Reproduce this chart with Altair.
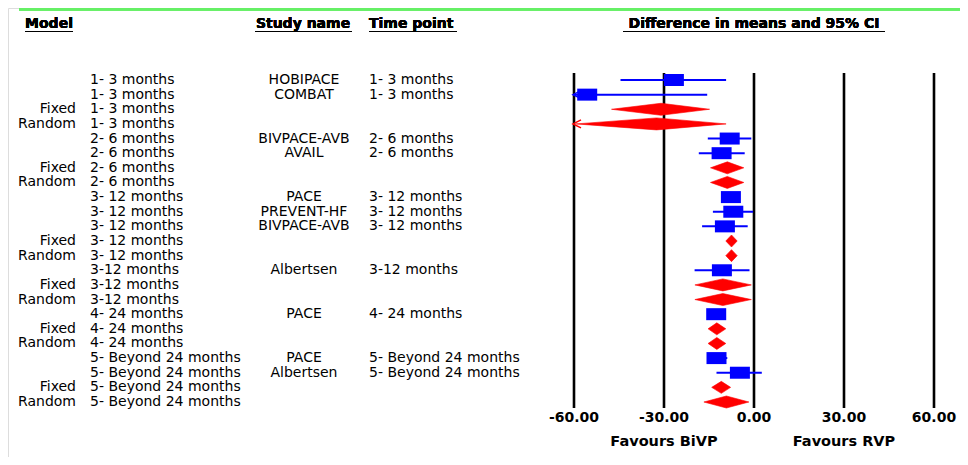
import altair as alt
import pandas as pd

# ---------------- data ----------------
models = ["", "", "Fixed", "Random", "", "", "Fixed", "Random", "", "", "", "Fixed", "Random",
          "", "Fixed", "Random", "", "Fixed", "Random", "", "", "Fixed", "Random"]
subgroups = (["1- 3 months"] * 4 + ["2- 6 months"] * 4 + ["3- 12 months"] * 5 +
             ["3-12 months"] * 3 + ["4- 24 months"] * 3 + ["5- Beyond 24 months"] * 4)
studies = ["HOBIPACE", "COMBAT", "", "", "BIVPACE-AVB", "AVAIL", "", "", "PACE", "PREVENT-HF",
           "BIVPACE-AVB", "", "", "Albertsen", "", "", "PACE", "", "", "PACE", "Albertsen", "", ""]
timepoints = ["1- 3 months", "1- 3 months", "", "", "2- 6 months", "2- 6 months", "", "",
              "3- 12 months", "3- 12 months", "3- 12 months", "", "", "3-12 months", "", "",
              "4- 24 months", "", "", "5- Beyond 24 months", "5- Beyond 24 months", "", ""]
estimates = [-26.7, -55.6, -31.0, -32.5, -8.1, -10.8, -8.9, -8.9, -7.7, -6.9, -9.7, -7.5, -7.5,
             -10.7, -10.4, -10.4, -12.6, -12.4, -12.4, -12.5, -4.7, -10.9, -9.2]
lower = [-44.5, -60.0, -47.5, -59.3, -15.4, -18.4, -14.5, -14.5, -9.5, -13.7, -17.3, -9.4, -9.4,
         -19.8, -19.7, -19.7, -14.0, -15.3, -15.3, -14.0, -12.5, -14.1, -16.7]
upper = [-9.3, -15.6, -14.8, -9.3, -0.9, -3.1, -3.4, -3.4, -6.0, -0.3, -2.1, -5.6, -5.6,
         -1.5, -0.9, -0.9, -11.2, -9.4, -9.4, -8.9, 2.6, -7.8, -1.7]
tick_values = [-60, -30, 0, 30, 60]
tick_labels = ["-60.00", "-30.00", "0.00", "30.00", "60.00"]
favour_positions = [-30, 30]
favour_labels = ["Favours BiVP", "Favours RVP"]
clipped_rows = [2, 4]  # rows whose interval runs past -60 (arrow)

rows = list(range(1, len(models) + 1))
kind = ["summary" if m else "study" for m in models]
df = pd.DataFrame({"row": rows, "model": models, "subgroup": subgroups, "study": studies,
                   "timepoint": timepoints, "est": estimates, "lo": lower, "hi": upper,
                   "kind": kind})

# diamond polygons for the summary rows (horizontal area: top tip, widest, bottom tip)
HALF = 0.41
dia_rows = []
for r, k, e, l, h in zip(rows, kind, estimates, lower, upper):
    if k == "summary":
        dia_rows.append({"grp": "d%02d" % r, "pyv": r - HALF, "pa": e, "pb": e})
        dia_rows.append({"grp": "d%02d" % r, "pyv": float(r), "pa": l, "pb": h})
        dia_rows.append({"grp": "d%02d" % r, "pyv": r + HALF, "pa": e, "pb": e})
dia = pd.DataFrame(dia_rows)

arrows = df[df["row"].isin(clipped_rows)].copy()
ticks = pd.DataFrame({"v": tick_values, "label": tick_labels})
favours = pd.DataFrame({"v": favour_positions, "label": favour_labels})

xs = alt.Scale(domain=[-60, 60], range=[566, 926], nice=False, zero=False)
ys = alt.Scale(domain=[1, 23], range=[72, 394], nice=False, zero=False)

FONT = "DejaVu Sans"
BLUE = "#0000ff"
RED = "#ff0000"

base = alt.Chart(df)
Y = alt.Y("row:Q", scale=ys, axis=None)

# top green line
green = alt.Chart(ticks).mark_rule(color="#66f066", strokeWidth=3).encode(
    x=alt.value(11), x2=alt.value(960), y=alt.value(1))


def header(text, x, align):
    return alt.Chart(ticks).mark_text(text=text, font=FONT, fontSize=14, fontWeight="bold",
                                      align=align, baseline="middle", color="black").encode(
        x=alt.value(x), y=alt.value(16))


def underline(x1, x2):
    return alt.Chart(ticks).mark_rule(color="black", strokeWidth=1.2).encode(
        x=alt.value(x1), x2=alt.value(x2), y=alt.value(23.5))


headers = [
    header("Model", 41, "center"), underline(17, 65),
    header("Study name", 295, "center"), underline(247, 344),
    header("Time point", 361, "left"), underline(361, 449),
    header("Difference in means and 95% CI", 746, "center"), underline(615, 877),
]

grid = alt.Chart(ticks).mark_rule(color="black", strokeWidth=2.6).encode(
    x=alt.X("v:Q", scale=xs, axis=None), y=alt.value(65), y2=alt.value(400))
tick_text = alt.Chart(ticks).mark_text(font=FONT, fontSize=14, fontWeight="bold",
                                       baseline="middle", color="black").encode(
    x=alt.X("v:Q", scale=xs, axis=None), y=alt.value(410), text="label:N")
fav_text = alt.Chart(favours).mark_text(font=FONT, fontSize=14.5, fontWeight="bold",
                                        baseline="middle", color="black").encode(
    x=alt.X("v:Q", scale=xs, axis=None), y=alt.value(434), text="label:N")

txt = dict(font=FONT, fontSize=14, baseline="middle", color="black")
col_model = base.mark_text(align="right", **txt).encode(x=alt.value(68), y=Y, text="model:N")
col_sub = base.mark_text(align="left", **txt).encode(x=alt.value(82), y=Y, text="subgroup:N")
col_study = base.mark_text(align="center", **txt).encode(x=alt.value(296), y=Y, text="study:N")
col_time = base.mark_text(align="left", **txt).encode(x=alt.value(361), y=Y, text="timepoint:N")

studies_only = base.transform_filter(alt.datum.kind == "study")
ci = studies_only.mark_rule(color=BLUE, strokeWidth=2).encode(
    x=alt.X("lo:Q", scale=xs, axis=None), x2="hi:Q", y=Y)
squares = studies_only.mark_point(shape="M-1,-0.6H1V0.6H-1Z", filled=True, size=400,
                                  color=BLUE, opacity=1).encode(
    x=alt.X("est:Q", scale=xs, axis=None), y=Y)

diamonds = alt.Chart(dia).mark_area(color=RED, orient="horizontal", opacity=1,
                                    stroke=RED, strokeWidth=0.6).encode(
    y=alt.Y("pyv:Q", scale=ys, axis=None),
    x=alt.X("pa:Q", scale=xs, axis=None, stack=None),
    x2="pb:Q",
    detail="grp:N")

arrow_marks = alt.Chart(arrows).mark_point(shape="M1,-1L-1,0L1,1", filled=False, size=64,
                                           strokeWidth=1.5, opacity=1).encode(
    x=alt.value(569), y=Y,
    color=alt.Color("kind:N", scale=alt.Scale(domain=["study", "summary"], range=[BLUE, RED]),
                    legend=None))

chart = alt.layer(
    green, *headers, grid, tick_text, fav_text,
    col_model, col_sub, col_study, col_time,
    ci, squares, diamonds, arrow_marks,
).properties(
    width=952, height=449, padding=0, autosize=alt.AutoSizeParams(type="none")
).configure_view(stroke=None).configure(background="white")

chart.save("out.html", embed_options={"renderer": "svg", "actions": False})
